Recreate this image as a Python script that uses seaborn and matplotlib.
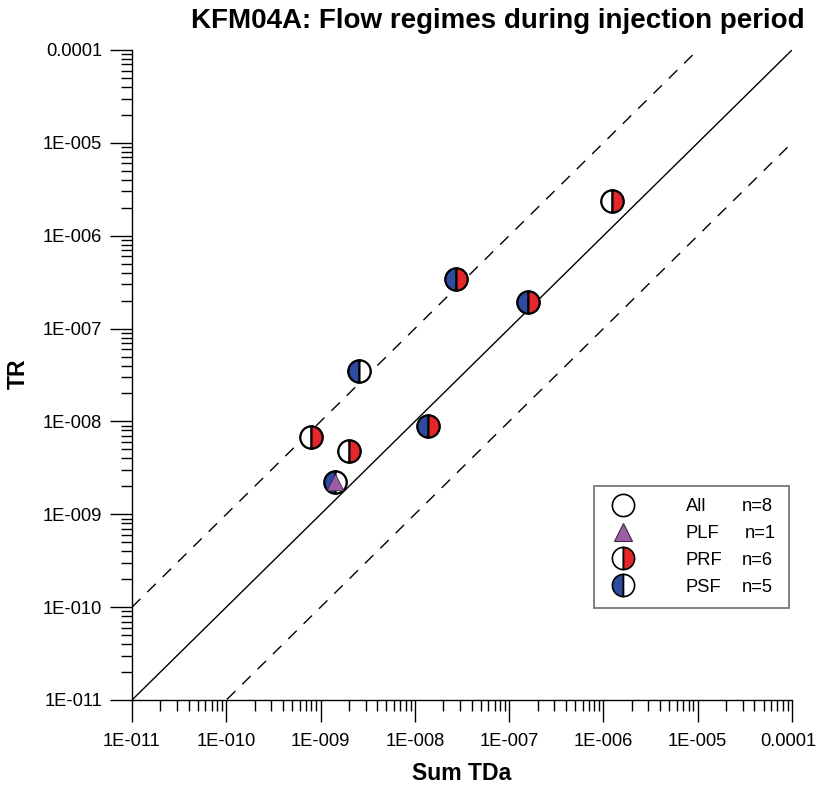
import numpy as np
import pandas as pd
import matplotlib
matplotlib.use("Agg")
import matplotlib.pyplot as plt
import seaborn as sns
from matplotlib.lines import Line2D
from matplotlib.transforms import ScaledTranslation
from matplotlib.ticker import FixedLocator, FixedFormatter, LogLocator, NullFormatter

# ---------------- data ----------------
sum_tda = [1.23e-6, 2.73e-8, 1.58e-7, 2.55e-9, 1.38e-8, 7.9e-10, 2.0e-9, 1.42e-9]
tr = [2.37e-6, 3.42e-7, 1.93e-7, 3.49e-8, 8.93e-9, 6.8e-9, 4.8e-9, 2.23e-9]
is_prf = [1, 1, 1, 0, 1, 1, 1, 0]
is_psf = [0, 1, 1, 1, 1, 0, 0, 1]
is_plf = [0, 0, 0, 0, 0, 0, 0, 1]

legend_names = ["All", "PLF", "PRF", "PSF"]
legend_counts = ["n=8", "n=1", "n=6", "n=5"]

tick_values = [1e-11, 1e-10, 1e-9, 1e-8, 1e-7, 1e-6, 1e-5, 1e-4]
tick_labels = ["1E-011", "1E-010", "1E-009", "1E-008", "1E-007", "1E-006", "1E-005", "0.0001"]

title = "KFM04A: Flow regimes during injection period"
xlabel = "Sum TDa"
ylabel = "TR"

RED = "#e5262a"
BLUE = "#2d4c9f"
PURPLE = "#9d5ca7"

# ---------------- style ----------------
sns.set_style("ticks")
plt.rcParams["font.family"] = ["Liberation Sans", "DejaVu Sans"]
plt.rcParams["text.color"] = "black"
plt.rcParams["xtick.color"] = "black"
plt.rcParams["ytick.color"] = "black"
plt.rcParams["xtick.labelcolor"] = "black"
plt.rcParams["ytick.labelcolor"] = "black"

FS = 13.2

df = pd.DataFrame({"x": sum_tda, "y": tr, "prf": is_prf, "psf": is_psf, "plf": is_plf})

W, H = 818, 789
fig = plt.figure(figsize=(W / 100, H / 100), dpi=100)
ax = fig.add_axes([132 / W, 1 - 700 / H, 660 / W, 650 / H])

ax.set_xscale("log")
ax.set_yscale("log")
ax.set_xlim(tick_values[0], tick_values[-1])
ax.set_ylim(tick_values[0], tick_values[-1])

# reference lines
lx = np.array([tick_values[0], tick_values[-1]])
ax.plot(lx, lx, color="black", lw=1.0, zorder=1)
ax.plot(lx, lx * 10, color="black", lw=1.0, dashes=(8.5, 7), zorder=1)
ax.plot(lx, lx / 10, color="black", lw=1.0, dashes=(8.5, 7), zorder=1)

MS = 16
# base circles (All)
sns.scatterplot(data=df, x="x", y="y", marker="o", s=MS ** 2, color="white",
                edgecolor="black", linewidth=1.5, zorder=3, legend=False, ax=ax)

# split circles
for _, r in df.iterrows():
    left = BLUE if r["psf"] else "white"
    right = RED if r["prf"] else "white"
    ax.plot([r["x"]], [r["y"]], marker="o", ls="none", ms=MS, fillstyle="left",
            markerfacecolor=left, markerfacecoloralt=right, markeredgecolor="black",
            markeredgewidth=1.5, zorder=4)

# PLF triangles
sns.scatterplot(data=df[df["plf"] == 1], x="x", y="y", marker="^", s=12 ** 2,
                color=PURPLE, edgecolor="#3a2a3e", linewidth=0.6, zorder=5,
                legend=False, ax=ax)

# ticks
ax.xaxis.set_major_locator(FixedLocator(tick_values))
ax.xaxis.set_major_formatter(FixedFormatter(tick_labels))
ax.yaxis.set_major_locator(FixedLocator(tick_values))
ax.yaxis.set_major_formatter(FixedFormatter(tick_labels))
for axis in (ax.xaxis, ax.yaxis):
    axis.set_minor_locator(LogLocator(base=10, subs=np.arange(2, 10), numticks=100))
    axis.set_minor_formatter(NullFormatter())
ax.tick_params(which="major", direction="out", length=15.8, width=1.0,
               labelsize=FS, color="black", labelcolor="black")
ax.tick_params(axis="x", which="major", pad=8)
ax.tick_params(axis="y", which="major", pad=5.8)
ax.tick_params(which="minor", direction="out", length=7.9, width=1.0, color="black")

for s in ("top", "right"):
    ax.spines[s].set_visible(False)
for s in ("left", "bottom"):
    ax.spines[s].set_linewidth(1.0)
    ax.spines[s].set_color("black")

ax.set_xlabel("")
ax.set_ylabel("")

fig.text(498 / W, 1 - 28 / H, title, ha="center", va="baseline",
         fontsize=20, fontweight="bold", color="black")
fig.text(462 / W, 1 - 774 / H, xlabel, ha="center", va="center",
         fontsize=16.6, fontweight="bold", color="black")
fig.text(18 / W, 1 - 374 / H, ylabel, ha="center", va="center", rotation=90,
         fontsize=16.6, fontweight="bold", color="black")

# legend
handles = [
    Line2D([], [], marker="o", ls="none", ms=MS, markerfacecolor="white",
           markeredgecolor="black", markeredgewidth=1.2),
    Line2D([], [], marker="^", ls="none", ms=13, markerfacecolor=PURPLE,
           markeredgecolor="#3a2a3e", markeredgewidth=0.8),
    Line2D([], [], marker="o", ls="none", ms=MS, fillstyle="left",
           markerfacecolor="white", markerfacecoloralt=RED,
           markeredgecolor="black", markeredgewidth=1.2),
    Line2D([], [], marker="o", ls="none", ms=MS, fillstyle="left",
           markerfacecolor=BLUE, markerfacecoloralt="white",
           markeredgecolor="black", markeredgewidth=1.2),
]
ax0, ay1 = (594 - 132) / 660, (700 - 486) / 650
aw, ah = (789 - 594) / 660, (607 - 486) / 650
leg = ax.legend(handles, legend_names, loc="upper left",
                bbox_to_anchor=(ax0, ay1 - ah, aw, ah), mode="expand",
                fontsize=FS, frameon=True, fancybox=False, borderpad=0.68,
                handlelength=1.76, handletextpad=2.55, labelspacing=0.53,
                borderaxespad=0)
leg.get_frame().set_edgecolor("#555555")
leg.get_frame().set_linewidth(1.3)
leg.set_zorder(10)
for t in leg.get_texts():
    t.set_color("black")

fig.canvas.draw()
# keep the rightmost x tick label inside the canvas
last_lbl = ax.get_xticklabels()[-1]
last_lbl.set_transform(last_lbl.get_transform() +
                       ScaledTranslation(-4 / 100, 0, fig.dpi_scale_trans))

count_x = [742, 745, 742, 742]
for cx, t, lbl in zip(count_x, leg.get_texts(), legend_counts):
    bb = t.get_window_extent()
    fig.text(cx / W, bb.y0 / H, lbl, ha="left", va="bottom", fontsize=FS,
             color="black", zorder=11)

fig.savefig("out.png", dpi=100)
